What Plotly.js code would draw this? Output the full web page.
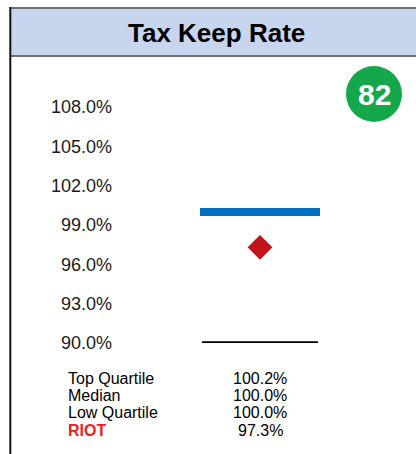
<!DOCTYPE html>
<html>
<head>
<meta charset="utf-8">
<script src="https://cdn.plot.ly/plotly-3.0.1.min.js"></script>
<style>html,body{margin:0;padding:0;background:#fff;}#chart{width:416px;height:454px;}</style>
</head>
<body>
<div id="chart"></div>
<script>
// ---- data ----
const chartTitle = 'Tax Keep Rate';
const score = 82;
const company = 'RIOT';
const tickValues = [90, 93, 96, 99, 102, 105, 108];
const tickLabels = ['90.0%', '93.0%', '96.0%', '99.0%', '102.0%', '105.0%', '108.0%'];
const statLabels = ['Top Quartile', 'Median', 'Low Quartile', 'RIOT'];
const statValues = [100.2, 100.0, 100.0, 97.3];

// ---- layout helpers (pixel -> paper, margins are 0) ----
const W = 416, H = 454;
const px = x => x / W;
const py = y => 1 - y / H;

const median = statValues[1];
const companyValue = statValues[3];
const yMin = tickValues[0];
const yMax = tickValues[tickValues.length - 1];

const BAND_HALF = 0.4225;
const BASE_HALF = 0.408;
const FONT = '"Liberation Sans", Arial, Helvetica, sans-serif';

const traces = [
  { // baseline
    x: [-BASE_HALF, BASE_HALF], y: [yMin, yMin], mode: 'lines', type: 'scatter',
    line: {color: '#000000', width: 3.4}, hoverinfo: 'skip', cliponaxis: false
  },
  { // median band
    x: [-BAND_HALF, BAND_HALF], y: [median, median], mode: 'lines', type: 'scatter',
    line: {color: '#0070c0', width: 8}, hoverinfo: 'skip', cliponaxis: false
  },
  { // company marker
    x: [0], y: [companyValue], mode: 'markers', type: 'scatter',
    marker: {symbol: 'diamond', size: 19, color: '#c3121c'}, cliponaxis: false
  }
];

const annotations = [
  {text: '<b>' + chartTitle + '</b>', x: px(216), y: py(33), xref: 'paper', yref: 'paper',
   xanchor: 'center', yanchor: 'middle', showarrow: false,
   font: {family: FONT, size: 26, color: '#000'}},
  {text: '<b>' + score + '</b>', x: px(374.5), y: py(95), xref: 'paper', yref: 'paper',
   xanchor: 'center', yanchor: 'middle', showarrow: false,
   font: {family: FONT, size: 30, color: '#ffffff'}}
];
const rowY = [378, 395, 412, 430];
statLabels.forEach((lab, i) => {
  const isCo = lab === company;
  annotations.push({
    text: isCo ? '<b>' + lab + '</b>' : lab, x: px(66), y: py(rowY[i]), xref: 'paper', yref: 'paper',
    xanchor: 'left', yanchor: 'middle', showarrow: false,
    font: {family: FONT, size: 16, color: isCo ? '#ee1c25' : '#000'}
  });
  annotations.push({
    text: statValues[i].toFixed(1) + '%', x: px(260), y: py(rowY[i]), xref: 'paper', yref: 'paper',
    xanchor: 'center', yanchor: 'middle', showarrow: false,
    font: {family: FONT, size: 16, color: '#000'}
  });
});

const shapes = [
  {type: 'rect', xref: 'paper', yref: 'paper', x0: px(10), x1: px(416), y0: py(56), y1: py(8),
   fillcolor: '#c7d5ee', line: {width: 0}, layer: 'below'},
  {type: 'line', xref: 'paper', yref: 'paper', x0: px(10), x1: px(416), y0: py(8), y1: py(8),
   line: {color: '#707070', width: 2}},
  {type: 'line', xref: 'paper', yref: 'paper', x0: px(10), x1: px(416), y0: py(56), y1: py(56),
   line: {color: '#707070', width: 2}},
  {type: 'line', xref: 'paper', yref: 'paper', x0: px(10.3), x1: px(10.3), y0: py(7), y1: py(454),
   line: {color: '#111111', width: 2}},
  {type: 'circle', xref: 'paper', yref: 'paper', x0: px(346), x1: px(402), y0: py(122), y1: py(66),
   fillcolor: '#14a84b', line: {width: 0}}
];

const layout = {
  width: W, height: H,
  margin: {l: 0, r: 0, t: 0, b: 0, pad: 0},
  paper_bgcolor: '#ffffff', plot_bgcolor: 'rgba(0,0,0,0)',
  showlegend: false,
  xaxis: {domain: [px(118), px(402)], range: [-1, 1], visible: false, fixedrange: true},
  yaxis: {domain: [py(343), py(107)], range: [yMin, yMax], tickvals: tickValues, ticktext: tickLabels,
          showgrid: false, zeroline: false, showline: false, ticks: '', ticklabelstandoff: 5,
          tickfont: {family: FONT, size: 18, color: '#1a1a1a'}, fixedrange: true},
  shapes: shapes,
  annotations: annotations,
  font: {family: FONT}
};

Plotly.newPlot('chart', traces, layout, {staticPlot: true, displayModeBar: false});
</script>
</body>
</html>
